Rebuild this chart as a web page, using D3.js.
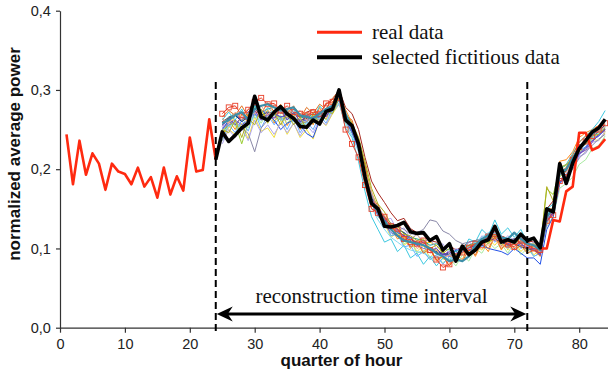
<!DOCTYPE html>
<html><head><meta charset="utf-8">
<script src="https://cdn.jsdelivr.net/npm/d3@7"></script>
<style>html,body{margin:0;padding:0;background:#fff;overflow:hidden}</style>
</head><body><svg id="c" width="608" height="375"></svg>
<script>
// ---------- data ----------
const xTicks = [0, 10, 20, 30, 40, 50, 60, 70, 80];
const yTicks = [0, 0.1, 0.2, 0.3, 0.4];
const intervalBounds = [24, 72];
const legendLabels = ["real data", "selected fictitious data"];
const intervalLabel = "reconstruction time interval";

const realStart1 = 1;
const realValues1 = [0.244, 0.181, 0.236, 0.193, 0.220, 0.207, 0.174, 0.207, 0.197, 0.194,
  0.181, 0.202, 0.178, 0.190, 0.164, 0.202, 0.168, 0.191, 0.173, 0.240,
  0.197, 0.199, 0.263, 0.212];
const realStart2 = 74;
const realValues2 = [0.100, 0.100, 0.136, 0.134, 0.172, 0.178, 0.246, 0.246, 0.224, 0.228, 0.238];

const selectedStart = 24;
const selectedValues = [0.212,
  0.247, 0.235, 0.243, 0.252, 0.258, 0.292, 0.266, 0.262, 0.272, 0.279,
  0.270, 0.264, 0.254, 0.253, 0.262, 0.257, 0.273, 0.276, 0.300, 0.262,
  0.255, 0.232, 0.190, 0.157, 0.150, 0.128, 0.127, 0.129, 0.133, 0.121,
  0.119, 0.120, 0.110, 0.115, 0.098, 0.106, 0.084, 0.103, 0.092, 0.098,
  0.108, 0.111, 0.128, 0.108, 0.111, 0.108, 0.118, 0.110, 0.113, 0.101,
  0.150, 0.146, 0.207, 0.182, 0.208, 0.226, 0.236, 0.247, 0.252, 0.263];

const fictStart = 25;
const fictA = [0.270, 0.278, 0.280, 0.268, 0.275, 0.285, 0.290, 0.282, 0.283, 0.274,
  0.280, 0.272, 0.270, 0.268, 0.272, 0.270, 0.283, 0.285, 0.290, 0.250,
  0.232, 0.215, 0.180, 0.150, 0.145, 0.140, 0.128, 0.125, 0.112, 0.108,
  0.106, 0.110, 0.098, 0.086, 0.076, 0.080, 0.090, 0.095, 0.101, 0.106,
  0.104, 0.115, 0.118, 0.112, 0.105, 0.102, 0.110, 0.104, 0.100, 0.098,
  0.135, 0.142, 0.185, 0.190, 0.212, 0.228, 0.235, 0.242, 0.250, 0.258];
const fictB = [0.260, 0.265, 0.270, 0.262, 0.268, 0.272, 0.270, 0.265, 0.270, 0.272,
  0.268, 0.270, 0.265, 0.272, 0.275, 0.270, 0.282, 0.288, 0.300, 0.278,
  0.270, 0.250, 0.215, 0.185, 0.170, 0.158, 0.145, 0.135, 0.138, 0.125,
  0.120, 0.118, 0.110, 0.108, 0.100, 0.104, 0.098, 0.102, 0.108, 0.110,
  0.112, 0.108, 0.114, 0.104, 0.110, 0.112, 0.106, 0.110, 0.108, 0.104,
  0.150, 0.160, 0.195, 0.200, 0.215, 0.228, 0.232, 0.245, 0.248, 0.250];
const fictC = [0.240, 0.262, 0.250, 0.270, 0.258, 0.282, 0.262, 0.275, 0.258, 0.278,
  0.255, 0.270, 0.250, 0.272, 0.256, 0.278, 0.262, 0.285, 0.296, 0.275,
  0.258, 0.236, 0.200, 0.150, 0.146, 0.128, 0.126, 0.112, 0.116, 0.100,
  0.108, 0.096, 0.102, 0.084, 0.090, 0.078, 0.092, 0.086, 0.104, 0.090,
  0.106, 0.096, 0.116, 0.098, 0.112, 0.100, 0.108, 0.096, 0.104, 0.094,
  0.150, 0.150, 0.210, 0.212, 0.222, 0.240, 0.246, 0.250, 0.255, 0.248];
const fictD = [0.245, 0.252, 0.268, 0.260, 0.270, 0.278, 0.272, 0.266, 0.274, 0.262,
  0.266, 0.260, 0.256, 0.260, 0.268, 0.262, 0.268, 0.274, 0.288, 0.268,
  0.252, 0.232, 0.195, 0.165, 0.150, 0.138, 0.128, 0.120, 0.114, 0.110,
  0.118, 0.106, 0.108, 0.104, 0.096, 0.090, 0.088, 0.094, 0.096, 0.102,
  0.110, 0.108, 0.112, 0.106, 0.102, 0.108, 0.104, 0.100, 0.098, 0.094,
  0.138, 0.148, 0.192, 0.198, 0.215, 0.225, 0.232, 0.238, 0.244, 0.248];
const fictE = [0.236, 0.250, 0.244, 0.258, 0.238, 0.266, 0.248, 0.252, 0.240, 0.262,
  0.244, 0.258, 0.240, 0.250, 0.238, 0.262, 0.255, 0.270, 0.282, 0.268,
  0.250, 0.232, 0.198, 0.166, 0.140, 0.132, 0.114, 0.120, 0.104, 0.110,
  0.096, 0.104, 0.088, 0.098, 0.086, 0.094, 0.088, 0.100, 0.092, 0.104,
  0.098, 0.112, 0.104, 0.114, 0.098, 0.110, 0.096, 0.104, 0.092, 0.098,
  0.130, 0.150, 0.190, 0.198, 0.205, 0.222, 0.226, 0.238, 0.236, 0.246];
const fictF = [0.248, 0.255, 0.258, 0.232, 0.258, 0.268, 0.265, 0.262, 0.268, 0.264,
  0.268, 0.262, 0.258, 0.255, 0.262, 0.266, 0.270, 0.276, 0.288, 0.266,
  0.255, 0.238, 0.205, 0.170, 0.152, 0.140, 0.128, 0.124, 0.116, 0.112,
  0.108, 0.104, 0.100, 0.098, 0.094, 0.092, 0.090, 0.096, 0.102, 0.106,
  0.110, 0.114, 0.116, 0.108, 0.106, 0.112, 0.108, 0.104, 0.102, 0.104,
  0.175, 0.168, 0.200, 0.205, 0.212, 0.226, 0.234, 0.240, 0.246, 0.252];
const fictG = [0.246, 0.262, 0.254, 0.266, 0.252, 0.270, 0.258, 0.274, 0.260, 0.268,
  0.258, 0.268, 0.252, 0.266, 0.258, 0.270, 0.262, 0.276, 0.282, 0.258,
  0.246, 0.226, 0.186, 0.166, 0.140, 0.138, 0.116, 0.122, 0.106, 0.110,
  0.094, 0.098, 0.086, 0.090, 0.082, 0.088, 0.078, 0.092, 0.084, 0.100,
  0.094, 0.108, 0.100, 0.106, 0.094, 0.108, 0.092, 0.100, 0.090, 0.094,
  0.128, 0.140, 0.176, 0.182, 0.190, 0.206, 0.212, 0.226, 0.230, 0.242];
const fictH = [0.258, 0.266, 0.270, 0.262, 0.268, 0.280, 0.272, 0.276, 0.278, 0.270,
  0.274, 0.270, 0.266, 0.264, 0.270, 0.268, 0.272, 0.276, 0.290, 0.262,
  0.246, 0.226, 0.188, 0.160, 0.146, 0.135, 0.128, 0.124, 0.120, 0.114,
  0.112, 0.110, 0.104, 0.106, 0.100, 0.098, 0.096, 0.100, 0.104, 0.108,
  0.112, 0.118, 0.120, 0.114, 0.110, 0.112, 0.108, 0.106, 0.104, 0.100,
  0.142, 0.152, 0.196, 0.200, 0.214, 0.230, 0.236, 0.244, 0.250, 0.262];
const fictI = [0.262, 0.272, 0.262, 0.276, 0.260, 0.280, 0.266, 0.278, 0.270, 0.280,
  0.262, 0.276, 0.258, 0.270, 0.262, 0.280, 0.270, 0.282, 0.286, 0.252,
  0.240, 0.210, 0.172, 0.140, 0.124, 0.108, 0.112, 0.096, 0.104, 0.088,
  0.094, 0.080, 0.090, 0.078, 0.088, 0.084, 0.098, 0.096, 0.112, 0.108,
  0.124, 0.116, 0.136, 0.118, 0.126, 0.114, 0.124, 0.108, 0.114, 0.104,
  0.150, 0.156, 0.200, 0.206, 0.220, 0.234, 0.242, 0.250, 0.260, 0.274];
const fictJ = [0.236, 0.256, 0.246, 0.262, 0.248, 0.272, 0.252, 0.268, 0.256, 0.266,
  0.250, 0.266, 0.246, 0.260, 0.250, 0.268, 0.258, 0.276, 0.288, 0.270,
  0.248, 0.236, 0.192, 0.170, 0.140, 0.136, 0.116, 0.118, 0.102, 0.104,
  0.090, 0.096, 0.086, 0.092, 0.080, 0.090, 0.084, 0.100, 0.094, 0.108,
  0.102, 0.116, 0.108, 0.114, 0.100, 0.112, 0.100, 0.104, 0.090, 0.094,
  0.132, 0.148, 0.184, 0.194, 0.204, 0.224, 0.228, 0.240, 0.242, 0.254];
const fictK = [0.250, 0.262, 0.268, 0.262, 0.272, 0.282, 0.274, 0.270, 0.262, 0.250,
  0.258, 0.262, 0.256, 0.245, 0.240, 0.262, 0.268, 0.272, 0.290, 0.264,
  0.248, 0.228, 0.190, 0.160, 0.146, 0.134, 0.126, 0.120, 0.116, 0.110,
  0.108, 0.104, 0.100, 0.096, 0.094, 0.092, 0.098, 0.100, 0.098, 0.102,
  0.104, 0.100, 0.098, 0.096, 0.092, 0.100, 0.094, 0.088, 0.088, 0.080,
  0.124, 0.140, 0.182, 0.190, 0.204, 0.220, 0.228, 0.236, 0.242, 0.250];
const fictL = [0.256, 0.264, 0.268, 0.260, 0.266, 0.276, 0.268, 0.272, 0.270, 0.266,
  0.268, 0.264, 0.262, 0.264, 0.266, 0.266, 0.272, 0.276, 0.294, 0.268,
  0.252, 0.232, 0.196, 0.164, 0.150, 0.138, 0.128, 0.124, 0.120, 0.112,
  0.106, 0.104, 0.098, 0.096, 0.092, 0.094, 0.092, 0.096, 0.100, 0.104,
  0.106, 0.110, 0.112, 0.108, 0.104, 0.106, 0.102, 0.100, 0.098, 0.094,
  0.138, 0.150, 0.194, 0.198, 0.212, 0.226, 0.232, 0.240, 0.248, 0.256];
const fictM = [0.232, 0.250, 0.240, 0.252, 0.236, 0.262, 0.246, 0.256, 0.244, 0.258,
  0.246, 0.258, 0.242, 0.256, 0.246, 0.262, 0.256, 0.272, 0.282, 0.262,
  0.250, 0.222, 0.200, 0.160, 0.156, 0.136, 0.138, 0.122, 0.126, 0.112,
  0.118, 0.108, 0.112, 0.100, 0.106, 0.092, 0.100, 0.094, 0.108, 0.102,
  0.116, 0.110, 0.122, 0.108, 0.116, 0.110, 0.114, 0.102, 0.108, 0.096,
  0.136, 0.150, 0.184, 0.192, 0.200, 0.216, 0.220, 0.234, 0.236, 0.248];
const fictN = [0.250, 0.256, 0.260, 0.252, 0.245, 0.222, 0.252, 0.262, 0.266, 0.262,
  0.266, 0.262, 0.258, 0.260, 0.264, 0.262, 0.268, 0.272, 0.290, 0.266,
  0.250, 0.232, 0.196, 0.166, 0.152, 0.140, 0.132, 0.128, 0.124, 0.118,
  0.120, 0.124, 0.136, 0.134, 0.122, 0.118, 0.110, 0.106, 0.108, 0.110,
  0.112, 0.116, 0.118, 0.112, 0.110, 0.112, 0.108, 0.104, 0.100, 0.096,
  0.136, 0.146, 0.184, 0.190, 0.200, 0.214, 0.222, 0.230, 0.238, 0.244];
const fictP = [0.252, 0.258, 0.262, 0.256, 0.262, 0.270, 0.264, 0.268, 0.270, 0.266,
  0.268, 0.264, 0.260, 0.262, 0.266, 0.264, 0.270, 0.274, 0.288, 0.262,
  0.246, 0.226, 0.186, 0.156, 0.142, 0.130, 0.120, 0.116, 0.112, 0.108,
  0.104, 0.100, 0.098, 0.094, 0.092, 0.090, 0.094, 0.098, 0.102, 0.106,
  0.110, 0.112, 0.116, 0.110, 0.106, 0.108, 0.104, 0.102, 0.098, 0.092,
  0.134, 0.144, 0.184, 0.188, 0.204, 0.218, 0.226, 0.236, 0.242, 0.250];
const fictQ = [0.246, 0.254, 0.258, 0.252, 0.258, 0.266, 0.262, 0.264, 0.268, 0.262,
  0.264, 0.260, 0.256, 0.258, 0.262, 0.264, 0.268, 0.272, 0.284, 0.258,
  0.242, 0.222, 0.184, 0.152, 0.136, 0.124, 0.114, 0.108, 0.102, 0.098,
  0.096, 0.094, 0.090, 0.088, 0.090, 0.086, 0.092, 0.096, 0.102, 0.108,
  0.114, 0.120, 0.124, 0.116, 0.112, 0.118, 0.114, 0.108, 0.104, 0.098,
  0.140, 0.152, 0.192, 0.196, 0.210, 0.224, 0.232, 0.240, 0.246, 0.254];
const fictR = [0.266, 0.274, 0.268, 0.280, 0.266, 0.286, 0.270, 0.284, 0.272, 0.282,
  0.270, 0.280, 0.264, 0.278, 0.270, 0.282, 0.276, 0.290, 0.298, 0.268,
  0.262, 0.232, 0.206, 0.160, 0.156, 0.132, 0.130, 0.116, 0.118, 0.102,
  0.108, 0.094, 0.100, 0.086, 0.090, 0.078, 0.088, 0.084, 0.098, 0.092,
  0.108, 0.100, 0.114, 0.100, 0.106, 0.098, 0.104, 0.094, 0.098, 0.090,
  0.138, 0.152, 0.196, 0.202, 0.218, 0.234, 0.242, 0.248, 0.254, 0.256];
const fictS = [0.254, 0.264, 0.256, 0.266, 0.262, 0.274, 0.262, 0.270, 0.264, 0.276,
  0.262, 0.272, 0.260, 0.268, 0.264, 0.272, 0.266, 0.280, 0.290, 0.266,
  0.254, 0.228, 0.194, 0.162, 0.150, 0.136, 0.130, 0.122, 0.116, 0.114,
  0.104, 0.108, 0.098, 0.100, 0.092, 0.096, 0.090, 0.098, 0.100, 0.106,
  0.106, 0.114, 0.110, 0.116, 0.104, 0.112, 0.106, 0.100, 0.100, 0.092,
  0.134, 0.146, 0.188, 0.190, 0.206, 0.220, 0.224, 0.234, 0.244, 0.250];
const fictT = [0.264, 0.258, 0.272, 0.262, 0.276, 0.270, 0.280, 0.268, 0.282, 0.270,
  0.276, 0.266, 0.274, 0.262, 0.276, 0.268, 0.284, 0.278, 0.294, 0.272,
  0.250, 0.240, 0.196, 0.172, 0.148, 0.142, 0.124, 0.126, 0.110, 0.112,
  0.100, 0.104, 0.094, 0.098, 0.088, 0.092, 0.086, 0.094, 0.100, 0.100,
  0.108, 0.104, 0.112, 0.102, 0.108, 0.104, 0.110, 0.100, 0.102, 0.096,
  0.142, 0.150, 0.194, 0.196, 0.212, 0.226, 0.236, 0.244, 0.248, 0.254];
const fictU = [0.250, 0.246, 0.262, 0.240, 0.264, 0.256, 0.276, 0.258, 0.272, 0.256,
  0.270, 0.256, 0.266, 0.250, 0.270, 0.258, 0.274, 0.270, 0.290, 0.270,
  0.258, 0.240, 0.210, 0.176, 0.156, 0.146, 0.130, 0.128, 0.118, 0.116,
  0.110, 0.112, 0.100, 0.104, 0.094, 0.100, 0.092, 0.098, 0.104, 0.106,
  0.112, 0.106, 0.118, 0.108, 0.112, 0.106, 0.112, 0.104, 0.106, 0.100,
  0.178, 0.160, 0.202, 0.206, 0.214, 0.228, 0.232, 0.242, 0.244, 0.252];
const fictO = [0.258, 0.262, 0.268, 0.272, 0.262, 0.276, 0.280, 0.282, 0.278, 0.274,
  0.276, 0.278, 0.268, 0.266, 0.264, 0.270, 0.276, 0.280, 0.294, 0.270,
  0.252, 0.232, 0.192, 0.158, 0.146, 0.134, 0.124, 0.116, 0.110, 0.108,
  0.106, 0.104, 0.100, 0.094, 0.090, 0.084, 0.086, 0.084, 0.090, 0.104,
  0.112, 0.116, 0.126, 0.114, 0.112, 0.120, 0.112, 0.106, 0.104, 0.098,
  0.140, 0.150, 0.196, 0.200, 0.214, 0.228, 0.236, 0.244, 0.252, 0.262];

const thinSeries = [fictB, fictC, fictD, fictE, fictF, fictG, fictH, fictI, fictJ,
  fictK, fictL, fictM, fictN, fictP, fictQ, fictR, fictS, fictT, fictU, fictA];
const thinColors = ["#a8281f", "#ff8c1a", "#ffc000", "#f0e040", "#9acd32", "#a8eaa0",
  "#1a9e9e", "#3cc8e0", "#6aaeff", "#2050e8", "#1f3a7a", "#b0a8f0", "#8a88a8",
  "#6060e0", "#80d8f0", "#e07020", "#7a3cb0", "#f4a080", "#b0b020", "#e8402a"];
const boldFictColor = "#3d8ea8";
const realColor = "#ff2a10";
const selectedColor = "#000000";

// ---------- drawing ----------
const svg = d3.select("#c");
const x = d3.scaleLinear().domain([0, 90]).range([60, 60 + 6.49 * 90]);
const y = d3.scaleLinear().domain([0, 0.4]).range([327.7, 10.7]);
const sans = "'Liberation Sans', Arial, sans-serif";
const serif = "'Liberation Serif', 'Times New Roman', serif";

const toPts = (start, arr) => arr.map((v, i) => ({ q: start + i, v }));
const line = d3.line().x(d => x(d.q)).y(d => y(d.v));

// axes
const xAxis = d3.axisBottom(x).tickValues(xTicks).tickSize(5).tickSizeOuter(0).tickFormat(d3.format("d"));
const gx = svg.append("g").attr("transform", `translate(0,${y(0)})`).call(xAxis);
const yAxis = d3.axisLeft(y).tickValues(yTicks).tickSize(4).tickSizeOuter(0)
  .tickFormat(d => d3.format(".1f")(d).replace(".", ","));
const gy = svg.append("g").attr("transform", `translate(${x(0)},0)`).call(yAxis);
[gx, gy].forEach(g => {
  g.selectAll("path,line").attr("stroke", "#333").attr("stroke-width", 1.2);
  g.selectAll("text").attr("fill", "#222").style("font-family", sans).style("font-size", "14.5px");
});
gx.selectAll("text").attr("dy", "0.9em");
gy.selectAll("text").attr("dx", "-0.15em");

// thin fictitious series
thinSeries.forEach((s, i) => {
  svg.append("path").datum(toPts(fictStart, s))
    .attr("fill", "none").attr("stroke", thinColors[i]).attr("stroke-width", 1)
    .attr("stroke-linejoin", "round").attr("d", line);
});
// markers on series A
svg.append("g").selectAll("rect").data(toPts(fictStart, fictA)).join("rect")
  .attr("x", d => x(d.q) - 2.5).attr("y", d => y(d.v) - 2.5)
  .attr("width", 5).attr("height", 5)
  .attr("fill", "none").attr("stroke", "#e8402a").attr("stroke-width", 0.9);

// bolder fictitious series
svg.append("path").datum(toPts(fictStart, fictO))
  .attr("fill", "none").attr("stroke", boldFictColor).attr("stroke-width", 2.2)
  .attr("stroke-linejoin", "round").attr("d", line);

// real data
[toPts(realStart1, realValues1), toPts(realStart2, realValues2)].forEach(pts => {
  svg.append("path").datum(pts)
    .attr("fill", "none").attr("stroke", realColor).attr("stroke-width", 2.6)
    .attr("stroke-linejoin", "round").attr("d", line);
});

// selected fictitious data
svg.append("path").datum(toPts(selectedStart, selectedValues))
  .attr("fill", "none").attr("stroke", selectedColor).attr("stroke-width", 3.6)
  .attr("stroke-linejoin", "round").attr("d", line);

// interval dashed lines
intervalBounds.forEach(b => {
  svg.append("line").attr("x1", x(b)).attr("x2", x(b)).attr("y1", 82).attr("y2", 332)
    .attr("stroke", "#000").attr("stroke-width", 2).attr("stroke-dasharray", "7,4");
});

// arrow
const ay = 314;
const ax1 = x(intervalBounds[0]) + 1, ax2 = x(intervalBounds[1]) - 1;
svg.append("line").attr("x1", ax1 + 6).attr("x2", ax2 - 6).attr("y1", ay).attr("y2", ay)
  .attr("stroke", "#000").attr("stroke-width", 3);
const head = (tipX, dir) => {
  const L = 16, H = 7.5, notch = 5;
  return `M${tipX},${ay} L${tipX + dir * L},${ay - H} L${tipX + dir * (L - notch)},${ay} L${tipX + dir * L},${ay + H} Z`;
};
svg.append("path").attr("d", head(ax1, 1)).attr("fill", "#000");
svg.append("path").attr("d", head(ax2, -1)).attr("fill", "#000");
svg.append("text").attr("x", (x(intervalBounds[0]) + x(intervalBounds[1])) / 2).attr("y", 303)
  .attr("text-anchor", "middle").style("font-family", serif).style("font-size", "21px")
  .attr("fill", "#111").text(intervalLabel);

// legend
const legendColors = [realColor, selectedColor];
const legendWidths = [3, 4];
legendLabels.forEach((lab, i) => {
  const ly = 32.3 + i * 25;
  svg.append("line").attr("x1", 317).attr("x2", 362).attr("y1", ly).attr("y2", ly)
    .attr("stroke", legendColors[i]).attr("stroke-width", legendWidths[i]);
  svg.append("text").attr("x", 372).attr("y", ly + 6.5)
    .style("font-family", serif).style("font-size", "21px").attr("fill", "#111").text(lab);
});

// axis titles
svg.append("text").attr("x", 341.5).attr("y", 366)
  .attr("text-anchor", "middle").style("font-family", sans).style("font-weight", "bold")
  .style("font-size", "17px").attr("fill", "#111").text("quarter of hour");
svg.append("text").attr("transform", "translate(20,154) rotate(-90)")
  .attr("text-anchor", "middle").style("font-family", sans).style("font-weight", "bold")
  .style("font-size", "17px").attr("fill", "#111").text("normalized average power");
</script>
</body></html>
